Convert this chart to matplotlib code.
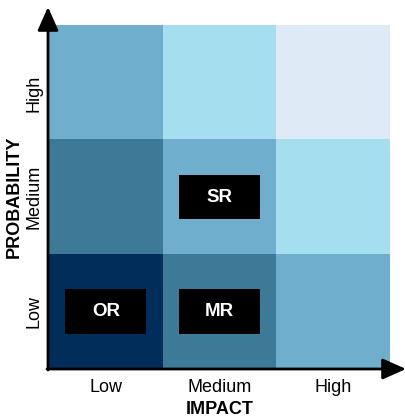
import matplotlib
matplotlib.use("Agg")
import matplotlib.pyplot as plt
from matplotlib.colors import ListedColormap
from matplotlib.patches import Rectangle, FancyArrowPatch
import numpy as np

plt.rcParams['font.family'] = ['Liberation Sans', 'DejaVu Sans']

impact_labels = ["Low", "Medium", "High"]
probability_labels = ["Low", "Medium", "High"]

# risk level per cell: rows = probability (Low..High), cols = impact (Low..High)
risk_low = [4, 3, 2]
risk_medium = [3, 2, 1]
risk_high = [2, 1, 0]

level_colors = ["#DEEAF5", "#A4DEEF", "#6FAECC", "#3C7A98", "#002D5A"]

# labelled cells: (label, impact index, probability index)
markers = [("OR", 0, 0), ("MR", 1, 0), ("SR", 1, 1)]

W, H = 406, 419
fig = plt.figure(figsize=(W / 100, H / 100), dpi=100)
ax = fig.add_axes([49 / W, 50 / H, (390 - 49) / W, (394 - 50) / H])

grid = np.array([risk_low, risk_medium, risk_high])
cmap = ListedColormap(level_colors)
ax.imshow(grid, cmap=cmap, vmin=-0.5, vmax=len(level_colors) - 0.5,
          origin="lower", extent=(0, 3, 0, 3), aspect="auto")
ax.set_xlim(0, 3)
ax.set_ylim(0, 3)

bw, bh = 0.71, 0.39
for label, xi, yi in markers:
    cx, cy = xi + 0.5, yi + 0.5
    ax.add_patch(Rectangle((cx - bw / 2, cy - bh / 2), bw, bh,
                           facecolor="black", edgecolor="none", zorder=3))
    ax.text(cx, cy, label, color="white", fontsize=13.5, fontweight="bold",
            ha="center", va="center", zorder=4)

for s in ax.spines.values():
    s.set_visible(False)
ax.set_xticks([0.5, 1.5, 2.5])
ax.set_xticklabels(impact_labels, fontsize=13)
ax.set_yticks([0.5, 1.5, 2.4])
ax.set_yticklabels(probability_labels, fontsize=13, rotation=90, va="center")
ax.tick_params(axis="x", length=0, pad=7)
ax.tick_params(axis="y", length=0, pad=5)
ax.set_xlabel("IMPACT", fontsize=13, fontweight="bold", labelpad=4)
ax.set_ylabel("PROBABILITY", fontsize=13, fontweight="bold", labelpad=2)

# axis arrows drawn in figure pixel coordinates
def fx(px):
    return px / W

def fy(py):
    return 1 - py / H

arrow_kw = dict(arrowstyle="-|>,head_length=0.9,head_width=0.4",
                color="black", lw=2, shrinkA=0, shrinkB=0)
fig.patches.append(FancyArrowPatch(
    (fx(48), fy(370)), (fx(48), fy(7)), transform=fig.transFigure,
    mutation_scale=16, **arrow_kw))
fig.patches.append(FancyArrowPatch(
    (fx(47), fy(369)), (fx(406), fy(369)), transform=fig.transFigure,
    mutation_scale=16, **arrow_kw))

fig.savefig("out.png", dpi=100)
